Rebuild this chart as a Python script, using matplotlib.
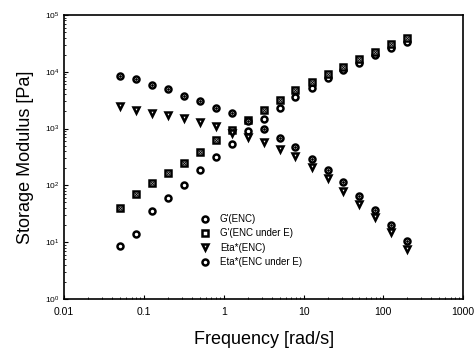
import matplotlib
matplotlib.use("Agg")
import matplotlib.pyplot as plt

plt.rcParams['font.family'] = ['Liberation Sans', 'DejaVu Sans']

# frequency sweep [rad/s]
freq = [0.05, 0.079, 0.126, 0.2, 0.316, 0.5, 0.79, 1.26, 2.0, 3.16,
        5.0, 7.9, 12.6, 20, 31.6, 50, 79, 126, 200]
g_enc = [8.4, 14, 35, 59, 103, 183, 318, 540, 900, 1470,
         2340, 3600, 5260, 7640, 10700, 14400, 19600, 26500, 33800]
g_enc_e = [40, 71, 112, 168, 245, 385, 620, 940, 1400, 2100,
           3150, 4730, 6650, 9060, 12200, 16500, 21900, 30400, 38700]
eta_enc = [2460, 2150, 1850, 1720, 1520, 1290, 1110, 850, 710, 580,
           441, 323, 209, 132, 79, 47, 28, 14.8, 7.6]
eta_enc_e = [8260, 7300, 5870, 4870, 3810, 3100, 2340, 1900, 1350, 970,
             690, 465, 294, 183, 113, 66, 37, 20, 10.3]

labels = ["G'(ENC)", "G'(ENC under E)", "Eta*(ENC)", "Eta*(ENC under E)"]

fig = plt.figure(figsize=(4.75, 3.55), dpi=100)
ax = fig.add_axes([0.135, 0.158, 0.84, 0.8])

ms = 4.3
mew = 1.8
h1, = ax.plot(freq, g_enc, "o", ms=ms, mfc="white", mec="black", mew=mew, label=labels[0])
h2, = ax.plot(freq, g_enc_e, "s", ms=ms, mfc="white", mec="black", mew=mew, label=labels[1])
ax.plot(freq, g_enc_e, "x", ms=2, mec="black", mew=0.7)
h3, = ax.plot(freq, eta_enc, "v", ms=ms + 0.7, mfc="white", mec="black", mew=mew, label=labels[2])
h4, = ax.plot(freq, eta_enc_e, "o", ms=ms, mfc="white", mec="black", mew=mew, label=labels[3])
ax.plot(freq, eta_enc_e, ".", ms=2, mec="black", mfc="black")

ax.set_xscale("log")
ax.set_yscale("log")
ax.set_xlim(0.01, 1000)
ax.set_ylim(1, 1e5)
ax.set_xticks([0.01, 0.1, 1, 10, 100, 1000])
ax.set_xticklabels(["0.01", "0.1", "1", "10", "100", "1000"])
ax.tick_params(which="both", direction="in", top=False, right=False)
ax.tick_params(axis="x", labelsize=7.5, pad=6)
ax.tick_params(axis="y", labelsize=6)
ax.tick_params(which="major", length=3)
ax.tick_params(which="minor", length=1.5)
for s in ax.spines.values():
    s.set_linewidth(1.2)

ax.set_xlabel("Frequency [rad/s]", fontsize=13, labelpad=10)
ax.set_ylabel("Storage Modulus [Pa]", fontsize=13, labelpad=8)

leg = ax.legend(handles=[h1, h2, h3, h4], loc="upper left",
                bbox_to_anchor=(0.32, 0.33), frameon=False, fontsize=7,
                handlelength=1.0, handletextpad=1.0, labelspacing=0.45)

fig.savefig("out.png", dpi=100)
